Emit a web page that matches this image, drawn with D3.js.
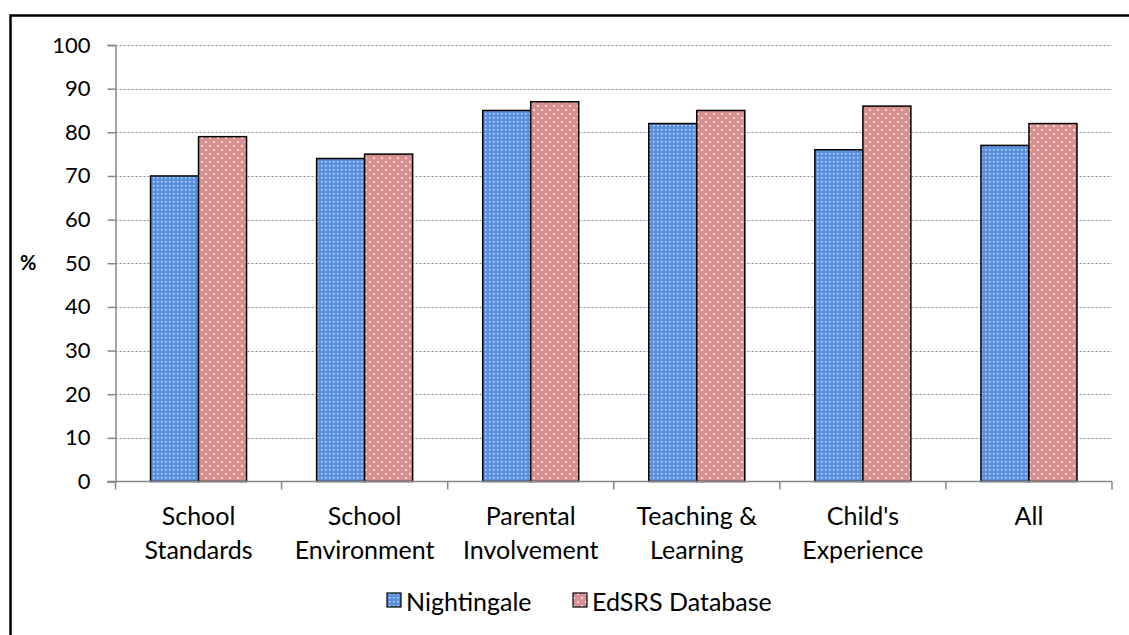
<!DOCTYPE html>
<html><head><meta charset="utf-8">
<script src="https://cdn.jsdelivr.net/npm/d3@7"></script>
<style>body{margin:0;background:#fff;} svg{display:block;font-family:Lato,"Open Sans",sans-serif;}</style>
</head><body>
<svg id="c" width="1129" height="635"></svg>
<script>
const categories = [["School","Standards"],["School","Environment"],["Parental","Involvement"],["Teaching &","Learning"],["Child's","Experience"],["All"]];
const seriesNames = ["Nightingale","EdSRS Database"];
const nightingale = [70,74,85,82,76,77];
const edsrs = [79,75,87,85,86,82];
const yTicks = [0,10,20,30,40,50,60,70,80,90,100];

const svg = d3.select("#c");
const defs = svg.append("defs");
const pb = defs.append("pattern").attr("id","pblue").attr("patternUnits","userSpaceOnUse").attr("width",4).attr("height",4);
pb.append("rect").attr("width",4).attr("height",4).attr("fill","#5a8fdc");
pb.append("rect").attr("x",1).attr("y",1).attr("width",1.5).attr("height",1.5).attr("fill","#c9dcf5");
const pp = defs.append("pattern").attr("id","ppink").attr("patternUnits","userSpaceOnUse").attr("width",8).attr("height",8);
pp.append("rect").attr("width",8).attr("height",8).attr("fill","#d9918f");
pp.append("rect").attr("x",1).attr("y",1).attr("width",2).attr("height",2).attr("fill","#f3dcdb");
pp.append("rect").attr("x",5).attr("y",5).attr("width",2).attr("height",2).attr("fill","#f3dcdb");
const fills = ["url(#pblue)","url(#ppink)"];

// frame
svg.append("rect").attr("x",10.5).attr("y",15.5).attr("width",1140).attr("height",640).attr("fill","none").attr("stroke","#000").attr("stroke-width",2.5);

const x0 = 115.5, x1 = 1112, yTop = 45, yBot = 481.5;
const x = d3.scaleBand().domain(d3.range(categories.length)).range([x0,x1]).paddingInner(0).paddingOuter(0);
const y = d3.scaleLinear().domain([0,100]).range([yBot,yTop]);

// gridlines
svg.append("g").selectAll("line").data(yTicks.filter(d=>d>0)).join("line")
  .attr("x1",x0).attr("x2",x1).attr("y1",d=>Math.round(y(d))+0.5).attr("y2",d=>Math.round(y(d))+0.5)
  .attr("stroke","#8c8c8c").attr("stroke-width",1.2).attr("stroke-dasharray","2,2");

// y axis
const ya = svg.append("g").attr("transform",`translate(${x0},0)`).call(d3.axisLeft(y).tickValues(yTicks).tickSize(8).tickPadding(17).tickFormat(d3.format("d")));
ya.select(".domain").attr("stroke","#868686").attr("stroke-width",1.5);
ya.selectAll(".tick line").attr("stroke","#868686").attr("stroke-width",1.5);
ya.selectAll("text").attr("font-size",22).attr("fill","#000").attr("font-family","Lato");

// bars
const inner = d3.scaleBand().domain([0,1]).range([0,x.bandwidth()]).paddingOuter(0.73).paddingInner(0);
const data = [];
categories.forEach((c,i)=>{ [nightingale[i],edsrs[i]].forEach((v,s)=>data.push({i,s,v})); });
svg.append("g").selectAll("rect").data(data).join("rect")
  .attr("x",d=>x(d.i)+inner(d.s)).attr("width",inner.bandwidth())
  .attr("y",d=>y(d.v)).attr("height",d=>yBot-y(d.v))
  .attr("fill",d=>fills[d.s]).attr("stroke","#000").attr("stroke-width",1.5);

// x axis
const xa = svg.append("g").attr("transform",`translate(0,${yBot})`);
xa.append("line").attr("x1",x0-8).attr("x2",x1).attr("stroke","#868686").attr("stroke-width",1.5);
xa.selectAll("line.t").data(d3.range(categories.length+1)).join("line").attr("class","t")
  .attr("x1",d=>x0+d*x.bandwidth()).attr("x2",d=>x0+d*x.bandwidth()).attr("y1",0).attr("y2",8)
  .attr("stroke","#868686").attr("stroke-width",1.5);
const lab = svg.append("g").selectAll("text").data(categories).join("text")
  .attr("x",(d,i)=>x(i)+x.bandwidth()/2).attr("y",525).attr("text-anchor","middle")
  .attr("font-size",25).attr("fill","#000");
lab.each(function(d){ const t=d3.select(this); d.forEach((l,k)=>t.append("tspan").attr("x",t.attr("x")).attr("dy",k?34:0).text(l)); });

// % label
svg.append("text").attr("x",20).attr("y",270).attr("font-size",20).attr("font-weight","bold").text("%");

// legend
const lg = svg.append("g");
const legX = [387,573];
seriesNames.forEach((n,s)=>{
  lg.append("rect").attr("x",legX[s]).attr("y",593).attr("width",14).attr("height",14).attr("fill",fills[s]).attr("stroke","#000").attr("stroke-width",1.2);
  lg.append("text").attr("x",legX[s]+19).attr("y",611).attr("font-size",25).text(n);
});
</script>
</body></html>
